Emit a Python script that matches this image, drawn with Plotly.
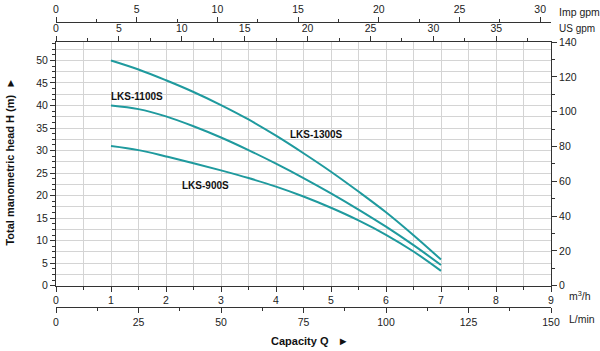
import plotly.graph_objects as go

# Capacity (m3/h)
q = [1.0, 1.5, 2.0, 2.5, 3.0, 3.5, 4.0, 4.5, 5.0, 5.5, 6.0, 6.5, 7.0]
# Head (m) per model
h_1300 = [50.0, 48.0, 45.6, 43.0, 40.1, 36.9, 33.3, 29.4, 25.3, 20.9, 16.3, 11.2, 5.8]
h_1100 = [40.0, 39.2, 37.6, 35.4, 32.9, 30.1, 27.1, 23.9, 20.5, 16.9, 13.1, 9.0, 4.6]
h_900 = [31.0, 30.1, 28.7, 27.2, 25.6, 23.9, 22.0, 19.8, 17.3, 14.5, 11.3, 7.6, 3.3]

models = ["LKS-1300S", "LKS-1100S", "LKS-900S"]
heads = [h_1300, h_1100, h_900]
label_pos = [(4.74, 33.6), (1.47, 42.1), (2.72, 22.2)]

# axis ranges
q_range = [0, 9]
h_range = [0, 54.1]
right_range = [0, 140]
lmin_range = [0, 150]
usgpm_range = [0, 39.35]
impgpm_range = [0, 30.67]

TEAL = "#1f9a9e"
AX = "#333333"
GRID = "#d4d4d4"
FONT = "Liberation Sans, Arial, sans-serif"
tf = dict(family=FONT, size=10.5, color="#222222")

fig = go.Figure()

# invisible companion traces so that the secondary scales are drawn
hidden = dict(mode="lines", line=dict(width=0, color="rgba(0,0,0,0)"), showlegend=False, hoverinfo="skip")
fig.add_trace(go.Scatter(x=q, y=h_900, xaxis="x", yaxis="y3", **hidden))
fig.add_trace(go.Scatter(x=q, y=[v * right_range[1] / h_range[1] for v in h_900], xaxis="x", yaxis="y2", **hidden))
fig.add_trace(go.Scatter(x=[v * lmin_range[1] / q_range[1] for v in q], y=h_900, xaxis="x2", yaxis="y", **hidden))
fig.add_trace(go.Scatter(x=[v * usgpm_range[1] / q_range[1] for v in q], y=h_900, xaxis="x3", yaxis="y", **hidden))
fig.add_trace(go.Scatter(x=[v * impgpm_range[1] / q_range[1] for v in q], y=h_900, xaxis="x4", yaxis="y", **hidden))

for name, h in zip(models, heads):
    fig.add_trace(go.Scatter(x=q, y=h, mode="lines", name=name, xaxis="x", yaxis="y",
                             line=dict(color=TEAL, width=2, shape="spline"),
                             showlegend=False, hoverinfo="skip"))

for name, (lx, ly) in zip(models, label_pos):
    fig.add_annotation(x=lx, y=ly, xref="x", yref="y", text="<b>%s</b>" % name,
                       showarrow=False, font=dict(family=FONT, size=10, color="#111111"))

common = dict(showline=True, linecolor=AX, linewidth=1, tickcolor=AX, ticks="outside",
              tickfont=tf, zeroline=False, fixedrange=True, automargin=False)

fig.update_layout(
    width=600, height=351,
    margin=dict(l=56, r=49, t=22, b=44, autoexpand=False),
    paper_bgcolor="white", plot_bgcolor="white",
    xaxis=dict(range=q_range, dtick=1, ticklen=5, showgrid=True, gridcolor=GRID, gridwidth=1,
               minor=dict(dtick=0.5, ticklen=3, showgrid=True, gridcolor=GRID, ticks="outside", tickcolor=AX),
               anchor="y", side="bottom", **common),
    yaxis=dict(range=h_range, dtick=5, ticklen=5, showgrid=True, gridcolor=GRID,
               minor=dict(dtick=1.25, ticklen=3, showgrid=False, ticks="outside", tickcolor=AX),
               domain=[0.0747, 0.9298], anchor="x", side="left", **common),
    yaxis2=dict(range=right_range, dtick=20, ticklen=5, showgrid=False,
                minor=dict(dtick=10, ticklen=3, ticks="outside", tickcolor=AX),
                overlaying="y", side="right", anchor="x", **common),
    yaxis3=dict(range=h_range, dtick=2.5, showgrid=True, gridcolor=GRID, showticklabels=False,
                ticks="", showline=False, zeroline=False, overlaying="y", anchor="x", side="left",
                fixedrange=True, automargin=False),
    xaxis2=dict(range=lmin_range, dtick=25, ticklen=5, showgrid=False,
                minor=dict(dtick=12.5, ticklen=3, ticks="outside", tickcolor=AX),
                overlaying="x", anchor="free", position=0, side="bottom", **common),
    xaxis3=dict(range=usgpm_range, dtick=5, ticklen=5, showgrid=False,
                minor=dict(dtick=2.5, ticklen=3, ticks="outside", tickcolor=AX),
                overlaying="x", anchor="y", side="top", **common),
    xaxis4=dict(range=impgpm_range, dtick=5, ticklen=5, showgrid=False,
                minor=dict(dtick=2.5, ticklen=3, ticks="outside", tickcolor=AX),
                overlaying="x", anchor="free", position=1, side="top", **common),
)

# unit labels
units = [("Imp gpm", 1.012, 1.034, 10.5), ("US gpm", 1.012, 0.976, 10), ("m<sup>3</sup>/h", 1.033, 0.0386, 10.5),
         ("L/min", 1.033, -0.042, 10.5)]
for txt, ux, uy, fs in units:
    fig.add_annotation(x=ux, y=uy, xref="paper", yref="paper", text=txt, showarrow=False,
                       xanchor="left", yanchor="middle", font=dict(family=FONT, size=fs, color="#222222"))

fig.add_annotation(x=-0.092, y=0.512, xref="paper", yref="paper", xanchor="center", yanchor="middle",
                   text="<b>Total manometric head H (m)  ►</b>", textangle=-90, showarrow=False,
                   font=dict(family=FONT, size=11, color="#111111"))
fig.add_annotation(x=0.513, y=-0.119, xref="paper", yref="paper", xanchor="center", yanchor="middle",
                   text="<b>Capacity Q   ►</b>", showarrow=False,
                   font=dict(family=FONT, size=11, color="#111111"))

fig.write_html("out.html")
